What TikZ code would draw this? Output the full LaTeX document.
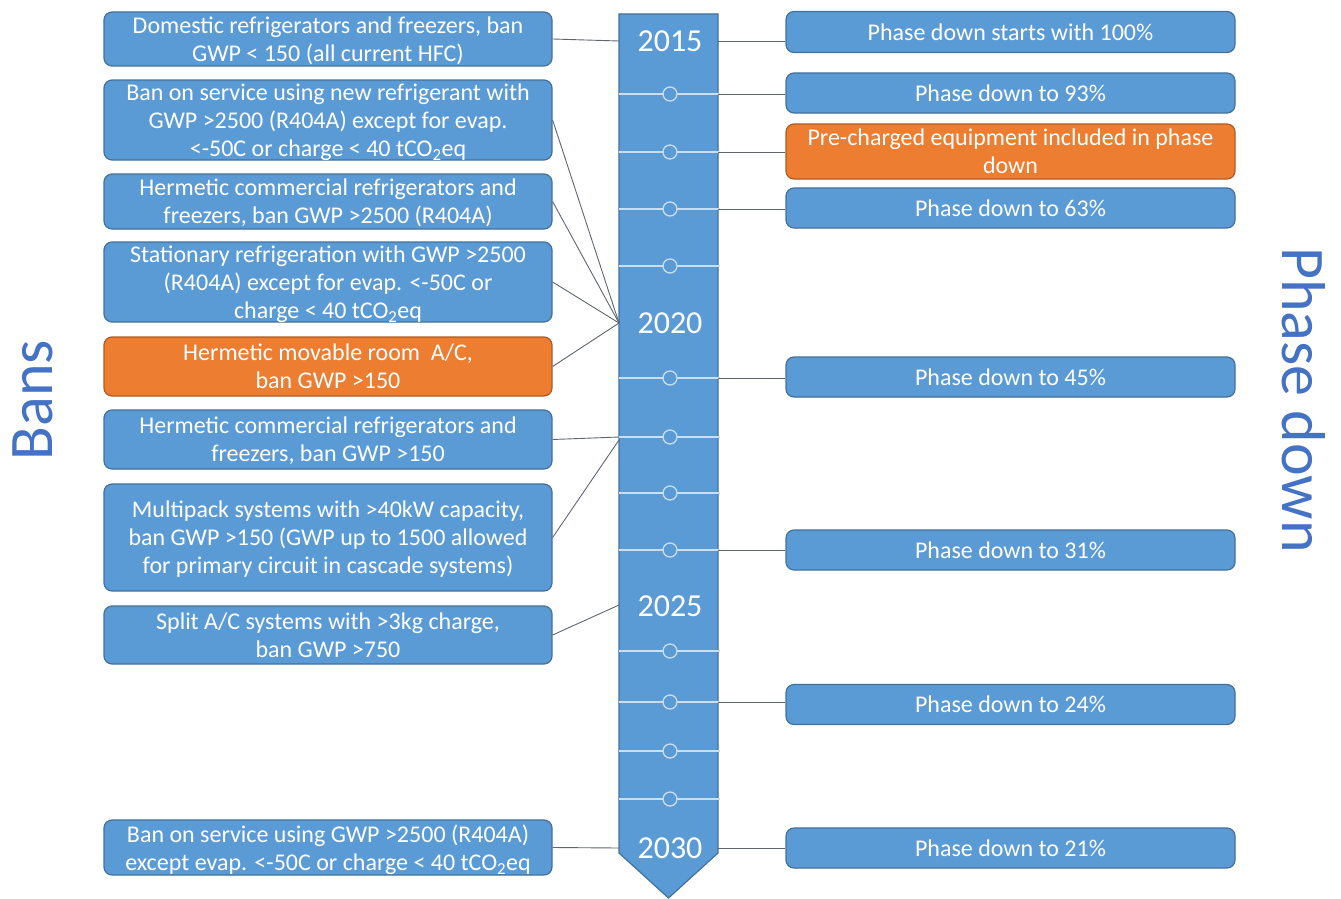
\documentclass[tikz,border=0pt]{standalone}
\usepackage{fontspec}
\setmainfont{Carlito}
\definecolor{boxblue}{HTML}{5B9BD5}
\definecolor{boxblueline}{HTML}{41719C}
\definecolor{boxorange}{HTML}{ED7D31}
\definecolor{boxorangeline}{HTML}{AE5A21}
\definecolor{titleblue}{HTML}{4472C4}
\definecolor{tickcol}{HTML}{C9DEF1}
\definecolor{conn}{HTML}{5F6670}
\tikzset{
  bx/.style={draw=boxblueline, fill=boxblue, rounded corners=8pt, line width=1.2pt,
    text=white, align=center, inner sep=0pt, text depth=0pt,
    font=\fontsize{24}{28}\selectfont},
  lbox/.style={bx, minimum width=448pt},
  rbox/.style={bx, minimum width=449pt},
  orangebox/.style={draw=boxorangeline, fill=boxorange},
  yearlbl/.style={text=white, font=\fontsize{32}{36}\selectfont},
  connline/.style={draw=conn, line width=0.9pt},
  tickline/.style={draw=tickcol, line width=1.3pt},
  title/.style={text=titleblue, font=\fontsize{62}{70}\selectfont}
}
\begin{document}
\begin{tikzpicture}[x=1pt,y=-1pt]
\useasboundingbox (0,0) rectangle (1341,899);
% timeline bar
\draw[draw=boxblueline, fill=boxblue, line width=1.2pt]
  (619,14) -- (718,14) -- (718,853) -- (668.5,898) -- (619,853) -- cycle;
% ticks
\foreach \ty in {94,152,209,266,378,437,493,550,651,702,751,799}{
  \draw[tickline] (619,\ty) -- (720,\ty);
  \draw[tickline, fill=boxblue] (670,\ty) circle (7pt);
}
% years
\node[yearlbl] (y2015) at (670,41) {2015};
\node[yearlbl] (y2020) at (670,323) {2020};
\node[yearlbl] (y2025) at (670,606) {2025};
\node[yearlbl] (y2030) at (670,848) {2030};
% connection points on the bar
\coordinate (w2015) at (619,41);
\coordinate (w2020) at (619,323);
\coordinate (w437) at (619,437);
\coordinate (w440) at (619,440);
\coordinate (w2025) at (619,605);
\coordinate (w2030) at (619,848);
\coordinate (e2015) at (718,41);
\coordinate (e94) at (718,94);
\coordinate (e152) at (718,152);
\coordinate (e209) at (718,209);
\coordinate (e378) at (718,378);
\coordinate (e550) at (718,550);
\coordinate (e702) at (718,702);
\coordinate (e2030) at (718,848);
% left boxes
\node[lbox, minimum height=54pt] (L1) at (328,39) {Domestic refrigerators and freezers, ban\\GWP < 150 (all current HFC)};
\node[lbox, minimum height=80pt] (L2) at (328,120) {Ban on service using new refrigerant with\\GWP >2500 (R404A) except for evap.\\<-50C or charge < 40 tCO\textsubscript{2}eq};
\node[lbox, minimum height=55pt] (L3) at (328,201.5) {Hermetic commercial refrigerators and\\freezers, ban GWP >2500 (R404A)};
\node[lbox, minimum height=80pt] (L4) at (328,282) {Stationary refrigeration with GWP >2500\\(R404A) except for evap. <-50C or\\charge < 40 tCO\textsubscript{2}eq};
\node[lbox, orangebox, minimum height=59pt] (L5) at (328,366.5) {Hermetic movable room~~A/C,\\ban GWP >150};
\node[lbox, minimum height=59pt] (L6) at (328,439.5) {Hermetic commercial refrigerators and\\freezers, ban GWP >150};
\node[lbox, minimum height=107pt] (L7) at (328,537.5) {Multipack systems with >40kW capacity,\\ban GWP >150 (GWP up to 1500 allowed\\for primary circuit in cascade systems)};
\node[lbox, minimum height=58pt] (L8) at (328,635) {Split A/C systems with >3kg charge,\\ban GWP >750};
\node[lbox, minimum height=55pt] (L9) at (328,847.5) {Ban on service using GWP >2500 (R404A)\\except evap. <-50C or charge < 40 tCO\textsubscript{2}eq};
% right boxes
\node[rbox, minimum height=41pt] (R1) at (1010.5,32) {Phase down starts with 100\%};
\node[rbox, minimum height=40pt] (R2) at (1010.5,93) {Phase down to 93\%};
\node[rbox, orangebox, minimum height=55pt] (R3) at (1010.5,151.5) {Pre-charged equipment included in phase\\down};
\node[rbox, minimum height=40pt] (R4) at (1010.5,208) {Phase down to 63\%};
\node[rbox, minimum height=40pt] (R5) at (1010.5,377) {Phase down to 45\%};
\node[rbox, minimum height=40pt] (R6) at (1010.5,550) {Phase down to 31\%};
\node[rbox, minimum height=40pt] (R7) at (1010.5,704.5) {Phase down to 24\%};
\node[rbox, minimum height=40pt] (R8) at (1010.5,848) {Phase down to 21\%};
% left connectors
\draw[connline] (L1.east) -- (w2015);
\draw[connline] (L2.east) -- (w2020);
\draw[connline] (L3.east) -- (w2020);
\draw[connline] (L4.east) -- (w2020);
\draw[connline] (L5.east) -- (w2020);
\draw[connline] (L6.east) -- (w437);
\draw[connline] (L7.east) -- (w440);
\draw[connline] (L8.east) -- (w2025);
\draw[connline] (L9.east) -- (w2030);
% right connectors
\draw[connline] (e2015) -- (e2015 -| R1.west);
\draw[connline] (e94) -- (e94 -| R2.west);
\draw[connline] (e152) -- (e152 -| R3.west);
\draw[connline] (e209) -- (e209 -| R4.west);
\draw[connline] (e378) -- (e378 -| R5.west);
\draw[connline] (e550) -- (e550 -| R6.west);
\draw[connline] (e702) -- (e702 -| R7.west);
\draw[connline] (e2030) -- (e2030 -| R8.west);
% titles
\node[title, rotate=90] (bans) at (33,400) {Bans};
\node[title, rotate=-90] (phase) at (1304,400) {Phase down};
\end{tikzpicture}
\end{document}
